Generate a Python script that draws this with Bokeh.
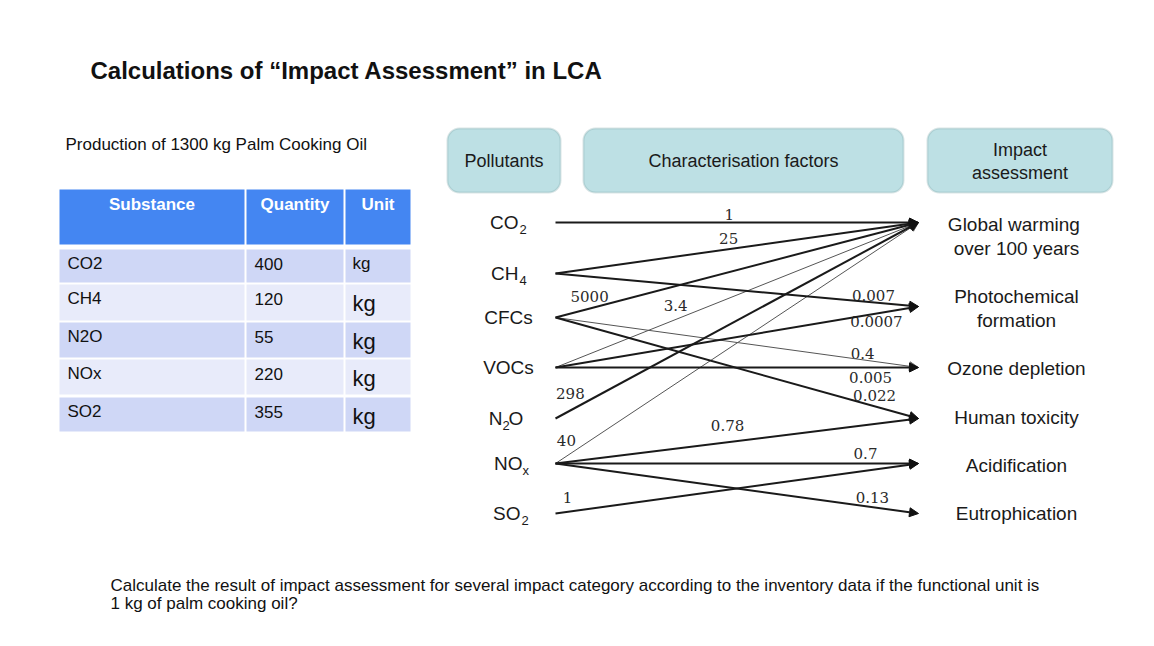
from bokeh.plotting import figure
from bokeh.models import Range1d, BoxAnnotation, Arrow, NormalHead, ColumnDataSource
from bokeh.core.properties import value
from bokeh.embed import file_html
from bokeh.resources import INLINE

# ---------------- data ----------------
title = "Calculations of \u201cImpact Assessment\u201d in LCA"
subtitle = "Production of 1300 kg Palm Cooking Oil"
question = ["Calculate the result of impact assessment for several impact category according to the inventory data if the functional unit is",
            "1 kg of palm cooking oil?"]

table_header = ["Substance", "Quantity", "Unit"]
substances = ["CO2", "CH4", "N2O", "NOx", "SO2"]
quantities = ["400", "120", "55", "220", "355"]
units = ["kg", "kg", "kg", "kg", "kg"]

box_titles = ["Pollutants", "Characterisation factors", "Impact\nassessment"]
pollutants = ["CO2", "CH4", "CFCs", "VOCs", "N2O", "NOx", "SO2"]
impacts = ["Global  warming\nover 100 years", "Photochemical\nformation", "Ozone depletion",
           "Human toxicity", "Acidification", "Eutrophication"]

link_source = ["CO2", "CH4", "CH4", "CFCs", "CFCs", "CFCs", "VOCs", "VOCs", "VOCs",
               "N2O", "NOx", "NOx", "NOx", "NOx", "SO2"]
link_target = [0, 0, 1, 0, 2, 3, 0, 1, 2, 0, 0, 3, 4, 5, 4]
link_factor = ["1", "25", "0.007", "5000", "0.4", "0.022", "3.4", "0.0007", "0.005",
               "298", "40", "0.78", "0.7", "0.13", "1"]

# ---------------- layout / style ----------------
W, H = 1138, 630
SANS = value("Liberation Sans")
SERIF = value("DejaVu Serif")

p = figure(width=W, height=H, x_range=Range1d(0, W), y_range=Range1d(H, 0),
           output_backend="svg", toolbar_location=None, min_border=0)
p.axis.visible = False
p.grid.visible = False
p.outline_line_color = None
p.background_fill_color = "white"
p.border_fill_color = "white"


def txt(xs, ys, ss, size, align="left", font=SANS, color="#1a1a1a", style="normal", baseline="middle", lh=1.2):
    p.text(x=xs, y=ys, text=ss, text_font=font, text_font_size=size, text_align=align,
           text_baseline=baseline, text_color=color, text_font_style=style, text_line_height=lh)


# title, subtitle, question
txt([90], [70], [title], "24px", style="bold", color="#111")
txt([65], [144], [subtitle], "17px", color="#111")
txt([110, 110], [585, 603], question, "17px", color="#111")

# ---- table ----
col_left = [59, 246, 345]
col_right = [244, 343, 410]
head_top, head_bot = 189, 244
row_top = [249, 284, 322, 359, 397]
row_bot = [282, 320, 357, 394, 431]
row_col = ["#cfd7f6", "#e8ebfa", "#cfd7f6", "#e8ebfa", "#cfd7f6"]

p.quad(left=col_left, right=col_right, top=[head_top] * 3, bottom=[head_bot] * 3,
       fill_color="#4486f2", line_color=None)
L, R, T, B, C = [], [], [], [], []
for i in range(len(substances)):
    for j in range(3):
        L.append(col_left[j]); R.append(col_right[j]); T.append(row_top[i]); B.append(row_bot[i]); C.append(row_col[i])
p.quad(left=L, right=R, top=T, bottom=B, fill_color=C, line_color=None)

txt([(l + r) / 2 for l, r in zip(col_left, col_right)], [204] * 3, table_header, "17px",
    align="center", color="white", style="bold")
ty = [t + 14 for t in row_top]
txt([col_left[0] + 8] * 5, ty, substances, "17px", color="#111")
txt([col_left[1] + 8] * 5, ty, quantities, "17px", color="#111")
txt([col_left[2] + 7], [row_top[0] + 14], units[:1], "17px", color="#111")
txt([col_left[2] + 7] * 4, [t + 19 for t in row_top[1:]], units[1:], "22px", color="#111")

# ---- header boxes ----
box_l = [447, 583, 927]
box_r = [560, 903, 1112]
for l, r, s in zip(box_l, box_r, box_titles):
    p.add_layout(BoxAnnotation(left=l, right=r, top=128, bottom=192, fill_color="#bde0e4", fill_alpha=1,
                               line_color="#7fa4a9", line_width=2, border_radius=12, level="underlay"))
txt([(l + r) / 2 for l, r in zip(box_l, box_r)], [160, 160, 161], box_titles, "18px", align="center",
    color="#1a1a1a", lh=1.15)

# ---- pollutant labels (with subscripts) ----
pol_y = [222, 273, 317, 367, 418, 463, 513]
parts = {
    "CO2": [("CO", 518, "right", 0), ("2", 519, "left", 1)],
    "CH4": [("CH", 518, "right", 0), ("4", 519, "left", 1)],
    "CFCs": [("CFCs", 508, "center", 0)],
    "VOCs": [("VOCs", 508, "center", 0)],
    "N2O": [("N", 502, "right", 0), ("2", 502, "left", 1), ("O", 508, "left", 0)],
    "NOx": [("NO", 522, "right", 0), ("x", 522, "left", 1)],
    "SO2": [("SO", 520, "right", 0), ("2", 521, "left", 1)],
}
for name, y in zip(pollutants, pol_y):
    for s, x, al, sub in parts[name]:
        if sub:
            txt([x], [y + 7], [s], "13px", align=al)
        else:
            txt([x], [y], [s], "19px", align=al)

# ---- impact labels ----
imp_y = [222, 306, 367, 418, 463, 513]
imp_label_y = [236, 308, 368, 417, 465, 513]
txt([1016] * 6, imp_label_y, impacts, "19px", align="center", lh=1.15)

# ---- links ----
X0, X1 = 555, 918
thin = {4, 6, 10}
label_t = [0.479, 0.477, 0.876, 0.094, 0.846, 0.879, 0.331, 0.884, 0.868, 0.041, 0.03, 0.474, 0.854, 0.873, 0.033]
label_dy = [-8, -11, -7, -12, -6, -11, -14, 8, 10, -17, -16, -17, -10, -10, -14]

groups = {"thick": dict(x0=[], y0=[], x1=[], y1=[]), "thin": dict(x0=[], y0=[], x1=[], y1=[])}
lx, ly = [], []
for k, (s, t) in enumerate(zip(link_source, link_target)):
    y0 = pol_y[pollutants.index(s)]
    y1 = imp_y[t]
    g = groups["thin" if k in thin else "thick"]
    g["x0"].append(X0); g["y0"].append(y0); g["x1"].append(X1); g["y1"].append(y1)
    tt = label_t[k]
    lx.append(X0 + tt * (X1 - X0))
    ly.append(y0 + tt * (y1 - y0) + label_dy[k])

p.add_layout(Arrow(end=NormalHead(size=9, fill_color="#666", line_color="#666", line_width=1),
                   x_start="x0", y_start="y0", x_end="x1", y_end="y1",
                   source=ColumnDataSource(groups["thin"]), line_width=1, line_color="#555555"))
p.add_layout(Arrow(end=NormalHead(size=9, fill_color="#111", line_color="#111", line_width=1),
                   x_start="x0", y_start="y0", x_end="x1", y_end="y1",
                   source=ColumnDataSource(groups["thick"]), line_width=2, line_color="#1a1a1a"))

txt(lx, ly, link_factor, "15px", align="center", font=SERIF, color="#2a2a2a")

open("out.html", "w").write(file_html(p, INLINE))
